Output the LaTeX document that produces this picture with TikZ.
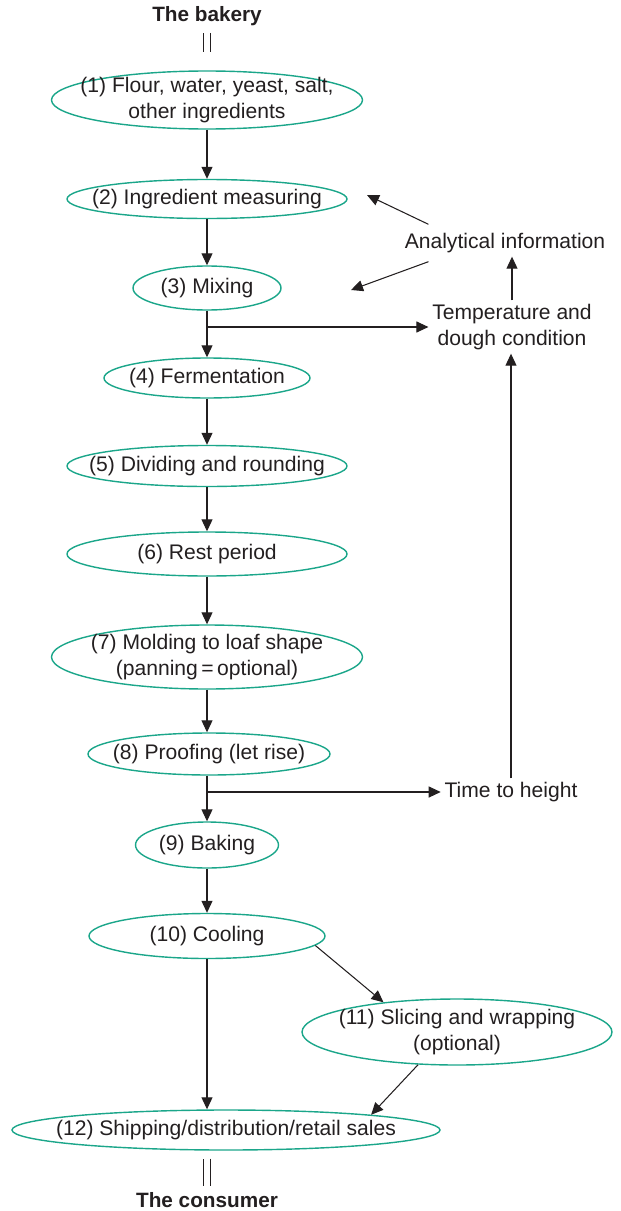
\documentclass[tikz,border=0pt]{standalone}
\usepackage{fontspec}
\setmainfont{Liberation Sans}
\usepackage{xcolor}
\usetikzlibrary{shapes.geometric,arrows.meta,positioning,calc}
\definecolor{bkGreen}{HTML}{1BA68A}
\definecolor{bkInk}{HTML}{231F20}

\begin{document}
\begin{tikzpicture}[
  font=\fontsize{12}{14.8}\selectfont, text=bkInk,
  stage/.style={draw=bkGreen,thick,ellipse,align=center,inner xsep=-1.6cm,inner ysep=-0.6cm},
  info/.style={align=center,inner sep=2pt},
  ends/.style={font=\fontsize{11.8}{13}\selectfont\bfseries,inner sep=1pt},
  fl/.style={-{Triangle[length=2.4mm,width=2.2mm]},draw=bkInk,semithick},
  dbl/.style={draw=bkInk,double,double distance=3pt,semithick}]
\useasboundingbox (0,0) rectangle (12.4,-24.22);

\node[ends] (bak) at (4.14,-0.32) {The bakery};
\node[stage,minimum width=6.22cm,minimum height=1.16cm] (p1)  at (4.14,-2.00)  {(1) Flour, water, yeast, salt,\\other ingredients};
\node[stage,minimum width=5.60cm,minimum height=0.78cm] (p2)  at (4.14,-3.98)  {(2) Ingredient measuring};
\node[stage,minimum width=2.96cm,minimum height=0.88cm] (p3)  at (4.14,-5.76)  {(3) Mixing};
\node[stage,minimum width=4.12cm,minimum height=0.80cm] (p4)  at (4.14,-7.56)  {(4) Fermentation};
\node[stage,minimum width=5.60cm,minimum height=0.82cm] (p5)  at (4.14,-9.32)  {(5) Dividing and rounding};
\node[stage,minimum width=5.60cm,minimum height=0.88cm] (p6)  at (4.14,-11.08) {(6) Rest period};
\node[stage,minimum width=6.22cm,minimum height=1.28cm] (p7)  at (4.14,-13.14) {(7) Molding to loaf shape\\(panning\,=\,optional)};
\node[stage,minimum width=4.84cm,minimum height=0.84cm] (p8)  at (4.18,-15.08) {(8) Proofing (let rise)};
\node[stage,minimum width=2.86cm,minimum height=0.92cm] (p9)  at (4.14,-16.90) {(9) Baking};
\node[stage,minimum width=4.72cm,minimum height=0.90cm] (p10) at (4.14,-18.72) {(10) Cooling};
\node[stage,minimum width=6.20cm,minimum height=1.32cm] (p11) at (9.14,-20.64) {(11) Slicing and wrapping\\(optional)};
\node[stage,minimum width=8.56cm,minimum height=0.80cm] (p12) at (4.52,-22.60) {(12) Shipping/distribution/retail sales};
\node[ends] (con) at (4.14,-24.00) {The consumer};

\node[info] (anal)  at (10.10,-4.86)  {Analytical information};
\node[info] (tcond) at (10.24,-6.54)  {Temperature and\\dough condition};
\node[info] (time)  at (10.22,-15.84) {Time to height};
\coordinate (m2) at (7.34,-3.90);
\coordinate (m3) at (7.02,-5.80);

\draw[dbl,shorten <=0.1cm,shorten >=0.36cm] (bak.south) -- (p1.north);
\draw[dbl,shorten <=0.16cm,shorten >=0.08cm] (p12.south -| con) -- (con.north);

\draw[fl] (p1) -- (p2);
\draw[fl] (p2) -- (p3);
\draw[fl] (p3) -- (p4);
\draw[fl] (p4) -- (p5);
\draw[fl] (p5) -- (p6);
\draw[fl] (p6) -- (p7);
\draw[fl] (p7) -- (p8.north -| p7);
\draw[fl] (p8.south -| p9) -- (p9);
\draw[fl] (p9) -- (p10);
\draw[fl] (p10.south) -- (p10.south |- p12.north);
\draw[fl] (p10.-5) -- (p11.158);
\draw[fl] (p11.-140) -- (p12.6);

\draw[fl] (p3 |- tcond.west) -- (tcond.west);
\draw[fl] (p9 |- time.west) -- (time.west);
\draw[fl] (time.north) -- (time.north |- tcond.south);
\draw[fl] (tcond.north) -- (tcond.north |- anal.south);
\draw[fl] ($(anal.north west)+(0.55,0.1)$) -- (m2);
\draw[fl] ($(anal.south west)+(0.55,-0.1)$) -- (m3);
\end{tikzpicture}
\end{document}
